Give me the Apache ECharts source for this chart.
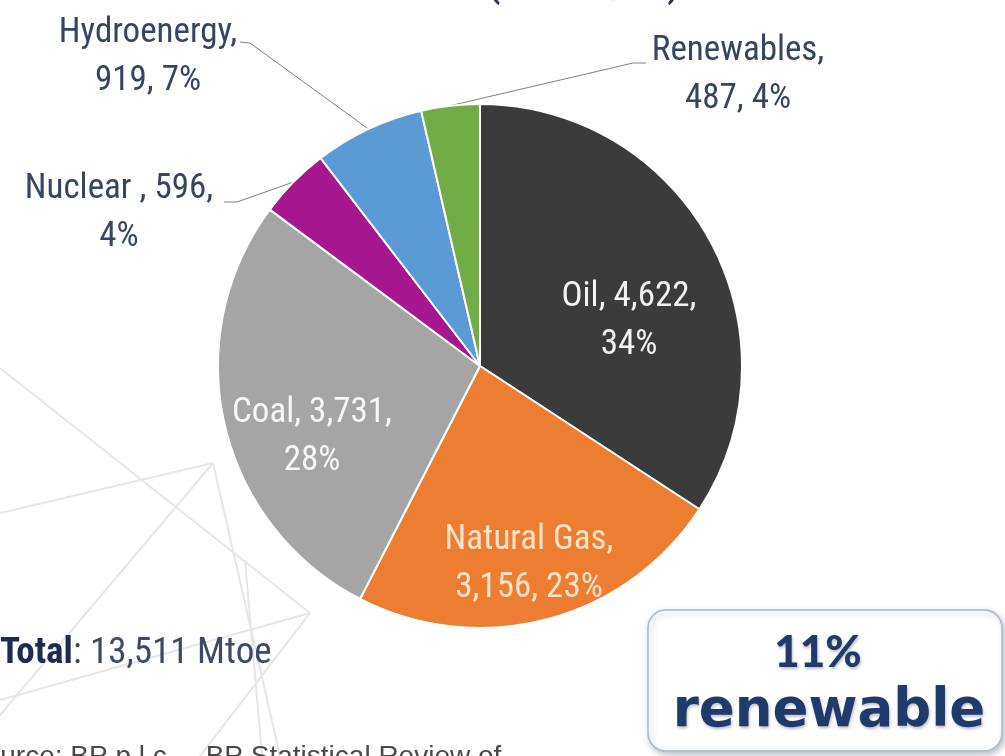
<!DOCTYPE html>
<html>
<head>
<meta charset="utf-8">
<script src="https://cdn.jsdelivr.net/npm/echarts@6/dist/echarts.min.js"></script>
<style>
  html, body { margin: 0; padding: 0; background: #ffffff; }
  #chart { width: 1005px; height: 756px; }
</style>
</head>
<body>
<div id="chart"></div>
<script>
// Primary energy consumption by source (Mtoe), clockwise from 12 o'clock
const categories = ['Oil', 'Natural Gas', 'Coal', 'Nuclear ', 'Hydroenergy', 'Renewables'];
const consumptionMtoe = [4622, 3156, 3731, 596, 919, 487];
// Sources counted in the renewable share call-out
const renewableSources = ['Hydroenergy', 'Renewables'];

// Styling
const sliceColors = ['#3b3b3b', '#ed7d31', '#a5a5a5', '#a5168f', '#5b9bd5', '#70ad47'];
const labelColors = ['#f2f2f2', '#fde2c8', '#f7f7f7', '#364561', '#364561', '#364561'];
const insideLabels = ['Oil', 'Natural Gas', 'Coal'];
const breakAfterName = ['Natural Gas', 'Hydroenergy', 'Renewables'];
const NARROW = "'Liberation Sans Narrow', 'Roboto Condensed', 'DejaVu Sans Condensed', Roboto, sans-serif";

// Label block centres and leader-line bends (pixels)
const labelCenters = [[629, 321], [529, 564], [312, 437], [119, 213], [148, 57], [738, 75]];
const leaderBends = [null, null, null, [[237, 202], [224, 202]], [[250, 43], [240, 42]], [[633, 63], [646, 63]]];

const total = consumptionMtoe.reduce((a, b) => a + b, 0);
const pctOf = v => Math.round(v / total * 100);
const renewablePct = categories.reduce((s, c, i) =>
  renewableSources.includes(c) ? s + pctOf(consumptionMtoe[i]) : s, 0);

const fmt = n => n.toLocaleString('en-US');

const pieData = categories.map((name, i) => ({
  name: name,
  value: consumptionMtoe[i],
  itemStyle: { color: sliceColors[i] },
  label: { color: labelColors[i] },
  labelLine: { show: !insideLabels.includes(name) }
}));

// Faint decorative network in the lower-left background
const backdropLines = [
  [[0, 368], [310, 613]],
  [[0, 513], [213, 463]],
  [[213, 463], [0, 715]],
  [[213, 463], [280, 756]],
  [[310, 613], [0, 700]],
  [[310, 613], [200, 756]],
  [[245, 560], [262, 756]]
];

const chart = echarts.init(document.getElementById('chart'), null, { renderer: 'canvas' });

chart.setOption({
  backgroundColor: '#ffffff',
  animation: false,
  graphic: [
    ...backdropLines.map(pts => ({
      type: 'polyline',
      z: -10,
      silent: true,
      shape: { points: pts },
      style: { stroke: '#e6e6e6', lineWidth: 2, fill: null }
    })),
    {
      // Heading sits above the top edge; only its descenders show
      type: 'text',
      silent: true,
      style: {
        text: '2019 (Mtoe, %)',
        x: 684, y: 6,
        align: 'right', verticalAlign: 'bottom',
        font: "54px " + NARROW,
        fill: '#2a3855'
      }
    },
    {
      type: 'text',
      silent: true,
      style: {
        text: '{b|Total}{r|: ' + fmt(total) + ' Mtoe}',
        x: 0, y: 654,
        verticalAlign: 'middle',
        rich: {
          b: { font: "bold 37px " + NARROW, fill: '#1f2b52' },
          r: { font: "37px " + NARROW, fill: '#3d4a66' }
        }
      }
    },
    {
      type: 'text',
      silent: true,
      style: {
        text: 'Source: BP p.l.c. \u2013 BP Statistical Review of',
        x: -34, y: 743,
        verticalAlign: 'top',
        font: "28px 'Liberation Sans', Arial, sans-serif",
        fill: '#4a4a4a'
      }
    },
    {
      type: 'rect',
      silent: true,
      shape: { x: 648, y: 610, width: 354, height: 141, r: 18 },
      style: {
        fill: '#ffffff',
        stroke: '#a9b8cb',
        lineWidth: 1.5,
        shadowBlur: 6,
        shadowOffsetX: 2,
        shadowOffsetY: 3,
        shadowColor: 'rgba(60,80,110,0.35)'
      }
    },
    {
      type: 'text',
      silent: true,
      style: {
        text: renewablePct + '%',
        x: 818, y: 653,
        align: 'center', verticalAlign: 'middle',
        font: "900 44px Lato, 'DejaVu Sans', sans-serif",
        fill: '#1f3a6b',
        textShadowColor: 'rgba(0,0,0,0.25)', textShadowBlur: 3, textShadowOffsetX: 1, textShadowOffsetY: 2
      }
    },
    {
      type: 'text',
      silent: true,
      style: {
        text: 'renewable',
        x: 829, y: 712,
        align: 'center', verticalAlign: 'middle',
        font: "bold 53px 'DejaVu Sans', sans-serif",
        fill: '#1f3a6b',
        textShadowColor: 'rgba(0,0,0,0.25)', textShadowBlur: 3, textShadowOffsetX: 1, textShadowOffsetY: 2
      }
    }
  ],
  series: [{
    type: 'pie',
    center: [480, 366],
    radius: 262,
    startAngle: 90,
    clockwise: true,
    avoidLabelOverlap: false,
    itemStyle: { borderColor: '#ffffff', borderWidth: 2 },
    label: {
      show: true,
      position: 'outside',
      fontFamily: NARROW,
      fontSize: 35,
      lineHeight: 48,
      align: 'center',
      formatter: p => {
        const v = fmt(p.value);
        const pct = pctOf(p.value) + '%';
        return breakAfterName.includes(p.name)
          ? p.name + ',\n' + v + ', ' + pct
          : p.name + ', ' + v + ',\n' + pct;
      }
    },
    labelLine: {
      show: true,
      lineStyle: { color: '#808080', width: 1 }
    },
    labelLayout: params => {
      const i = params.dataIndex;
      const c = labelCenters[i];
      const out = { x: c[0], y: c[1], align: 'center', verticalAlign: 'middle' };
      const bend = leaderBends[i];
      if (bend && params.labelLinePoints) {
        out.labelLinePoints = [params.labelLinePoints[0], bend[0], bend[1]];
      }
      return out;
    },
    emphasis: { disabled: true },
    data: pieData
  }]
});
</script>
</body>
</html>
